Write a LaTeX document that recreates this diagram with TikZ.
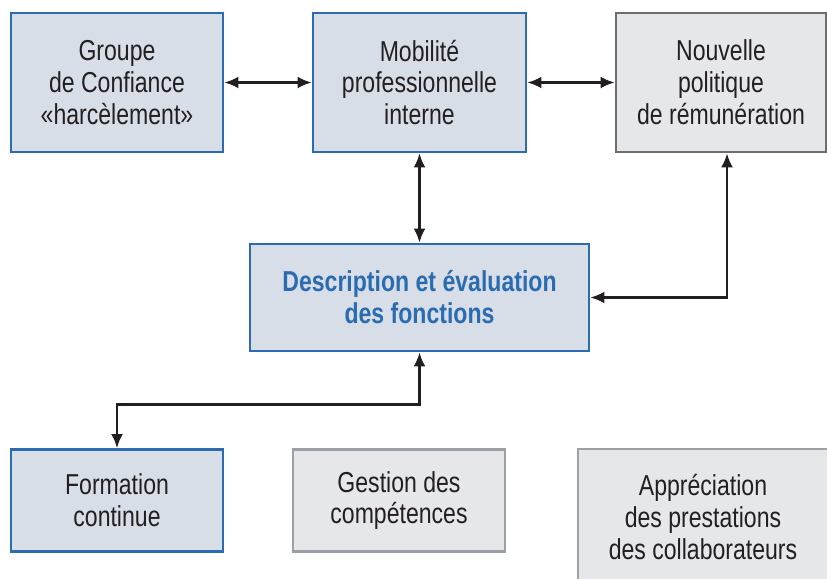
\documentclass[tikz,border=0pt]{standalone}
\usepackage{fontspec}
\setmainfont{Liberation Sans}[FakeStretch=0.8]
\usepackage{tikz}
\usetikzlibrary{arrows.meta}

\definecolor{bleubord}{RGB}{43,108,176}
\definecolor{bleufond}{RGB}{216,222,232}
\definecolor{grisfond}{RGB}{230,231,233}
\definecolor{grisfonce}{RGB}{109,110,112}
\definecolor{grisclair}{RGB}{155,161,167}
\definecolor{encre}{RGB}{35,31,32}

\tikzset{
  boite/.style={draw, line width=2pt, align=center, inner sep=0pt,
    text=encre, font=\fontsize{20.5}{22.7}\selectfont},
  bleue/.style={boite, draw=bleubord, fill=bleufond},
  grise/.style={boite, draw=grisfonce, fill=grisfond},
  grisepale/.style={boite, draw=grisclair, fill=grisfond},
  lien/.style={line width=1.6pt, draw=encre, {Latex[length=10pt,width=8.5pt]}-{Latex[length=10pt,width=8.5pt]}}
}

\begin{document}
\begin{tikzpicture}[x=0.025cm,y=-0.025cm]
    \useasboundingbox (0,0) rectangle (827,578);
    \clip (0,0) rectangle (827,578);
    % ligne du haut
    \node [bleue, minimum width=212*0.025cm, minimum height=139*0.025cm] (groupe) at (117,82.5)
      {Groupe\\de Confiance\\«harcèlement»};
    \node [bleue, minimum width=213*0.025cm, minimum height=139*0.025cm] (mobilite) at (419.5,82.5)
      {Mobilité\\professionnelle\\interne};
    \node [grise, minimum width=210*0.025cm, minimum height=139*0.025cm] (nouvelle) at (721,82.5)
      {Nouvelle\\politique\\de rémunération};
    % boite centrale
    \node [bleue, minimum width=339*0.025cm, minimum height=107*0.025cm,
      text=bleubord, font=\fontsize{20.5}{22.7}\selectfont\bfseries] (descr) at (419.5,297.5)
      {Description et évaluation\\des fonctions};
    % ligne du bas
    \node [bleue, minimum width=212*0.025cm, minimum height=102*0.025cm] (formation) at (117,500.5)
      {Formation\\continue};
    \node [grisepale, minimum width=212*0.025cm, minimum height=102*0.025cm] (gestion) at (399,500.5)
      {Gestion des\\compétences};
    \node [grisepale, minimum width=250*0.025cm, minimum height=136*0.025cm] (apprec) at (703,517)
      {Appréciation\\des prestations\\des collaborateurs};
    % liens
    \draw [lien] (groupe.east) -- (mobilite.west);
    \draw [lien] (mobilite.east) -- (nouvelle.west);
    \draw [lien] (mobilite.south) -- (descr.north);
    \draw [lien] ([xshift=0.15cm]nouvelle.south) |- (descr.east);
    \draw [lien] (descr.south) -- ++(0,52) -| (formation.north);
\end{tikzpicture}
\end{document}
